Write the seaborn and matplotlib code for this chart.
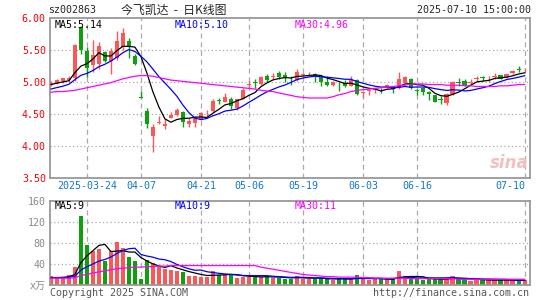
import seaborn as sns
import matplotlib
matplotlib.use('Agg')
import matplotlib.pyplot as plt
import matplotlib.transforms as mtransforms
import pandas as pd
import numpy as np

# daily bars, 2025-03-14 .. 2025-07-10
open_ = [4.95, 4.99, 5.01, 5.03, 5.06, 5.86, 5.49, 5.27, 5.28, 5.47,
         5.33, 5.38, 5.55, 5.64, 5.40, 4.76, 4.55, 4.16, 4.36, 4.32,
         4.44, 4.48, 4.53, 4.34, 4.36, 4.42, 4.51, 4.55, 4.71, 4.69,
         4.74, 4.59, 4.74, 4.95, 5.00, 4.97, 5.09, 5.08, 5.14, 5.11,
         5.05, 5.03, 5.11, 5.12, 5.12, 5.08, 5.00, 4.96, 4.99, 4.98,
         4.94, 5.03, 4.83, 4.86, 4.88, 4.88, 4.92, 4.93, 4.91, 4.99,
         5.05, 4.87, 4.91, 4.85, 4.79, 4.73, 4.67, 4.82, 5.00, 5.02,
         4.98, 5.04, 5.07, 5.04, 5.08, 5.11, 5.08, 5.14, 5.21, 5.18]
high = [5.01, 5.05, 5.07, 5.10, 5.59, 5.88, 5.55, 5.66, 5.63, 5.49,
        5.53, 5.80, 5.85, 5.68, 5.43, 4.86, 4.60, 4.34, 4.47, 4.42,
        4.53, 4.60, 4.55, 4.44, 4.47, 4.53, 4.56, 4.73, 4.75, 4.83,
        4.76, 4.74, 4.90, 5.02, 5.04, 5.10, 5.12, 5.14, 5.17, 5.15,
        5.09, 5.20, 5.14, 5.15, 5.14, 5.09, 5.09, 5.01, 5.00, 5.03,
        5.09, 5.05, 4.86, 4.89, 4.91, 4.91, 4.97, 4.93, 5.15, 5.09,
        5.07, 4.89, 4.92, 4.86, 4.80, 4.78, 4.83, 5.01, 5.07, 5.05,
        5.04, 5.10, 5.10, 5.09, 5.14, 5.11, 5.13, 5.18, 5.25, 5.22]
low = [4.93, 4.97, 4.99, 5.00, 5.02, 5.43, 5.08, 5.15, 5.20, 5.31,
       5.12, 5.35, 5.50, 5.38, 5.26, 4.75, 4.28, 3.90, 4.35, 4.27,
       4.43, 4.47, 4.30, 4.29, 4.30, 4.41, 4.47, 4.53, 4.65, 4.68,
       4.58, 4.56, 4.73, 4.90, 4.91, 4.95, 5.00, 5.05, 5.05, 5.00,
       4.95, 5.02, 5.09, 5.10, 5.00, 4.94, 4.94, 4.93, 4.86, 4.92,
       4.93, 4.79, 4.76, 4.80, 4.83, 4.83, 4.90, 4.83, 4.89, 4.98,
       4.89, 4.80, 4.80, 4.72, 4.68, 4.66, 4.64, 4.80, 4.94, 4.93,
       4.95, 5.02, 5.02, 5.00, 5.05, 5.04, 5.07, 5.13, 5.15, 5.15]
close = [4.99, 5.03, 5.06, 5.07, 5.58, 5.50, 5.22, 5.42, 5.57, 5.33,
         5.49, 5.64, 5.76, 5.56, 5.28, 4.75, 4.35, 4.29, 4.38, 4.35,
         4.49, 4.56, 4.38, 4.39, 4.43, 4.51, 4.52, 4.71, 4.70, 4.77,
         4.62, 4.73, 4.87, 4.97, 4.98, 5.08, 5.03, 5.10, 5.08, 5.06,
         5.04, 5.16, 5.12, 5.13, 5.10, 5.00, 4.96, 5.00, 4.98, 4.94,
         5.03, 4.82, 4.85, 4.87, 4.89, 4.87, 4.95, 4.89, 5.05, 5.08,
         4.91, 4.86, 4.85, 4.81, 4.69, 4.72, 4.82, 5.00, 4.99, 4.95,
         5.00, 5.07, 5.06, 5.05, 5.10, 5.05, 5.12, 5.17, 5.19, 5.19]
# closes of the days before the window (for the first MA5/MA10 points)
pre_close = [4.80, 4.84, 4.78, 4.85, 4.83, 4.92, 4.96, 4.98, 4.95]
# MA30 of price
ma30_price = [4.84, 4.85, 4.85, 4.86, 4.87, 4.89, 4.91, 4.93, 4.95, 4.97,
              4.99, 5.02, 5.05, 5.07, 5.09, 5.10, 5.10, 5.09, 5.07, 5.05,
              5.03, 5.02, 5.01, 5.00, 4.99, 4.98, 4.97, 4.96, 4.95, 4.94,
              4.93, 4.92, 4.91, 4.90, 4.89, 4.87, 4.86, 4.85, 4.83, 4.81,
              4.79, 4.77, 4.76, 4.75, 4.75, 4.75, 4.75, 4.77, 4.80, 4.82,
              4.85, 4.87, 4.88, 4.89, 4.90, 4.91, 4.92, 4.93, 4.94, 4.95,
              4.97, 4.97, 4.97, 4.96, 4.96, 4.96, 4.95, 4.95, 4.95, 4.94,
              4.94, 4.93, 4.93, 4.93, 4.93, 4.94, 4.94, 4.95, 4.96, 4.96]

# volume, 万手
volume = [18, 14, 14, 19, 35, 132, 77, 64, 69, 45,
          64, 81, 70, 54, 45, 12, 48, 42, 34, 31,
          29, 26, 25, 17, 17, 16, 16, 26, 20, 19,
          20, 14, 16, 15, 16, 16, 16, 14, 14, 12,
          12, 18, 12, 12, 11, 13, 12, 10, 12, 11,
          11, 20, 12, 10, 11, 11, 11, 12, 26, 18,
          14, 11, 10, 11, 12, 11, 12, 18, 12, 11,
          8, 10, 10, 9, 9, 9, 10, 9, 8, 9]
pre_volume = [13, 15, 12, 14, 13, 14, 12, 13, 14]
ma30_volume = [13, 13, 13, 13, 14, 18, 20, 23, 25, 27,
               29, 31, 32, 33, 34, 34, 35, 35, 36, 36,
               37, 37, 37, 37, 37, 37, 37, 37, 37, 37,
               37, 37, 37, 37, 37, 34, 32, 30, 28, 26,
               24, 22, 20, 19, 18, 17, 16, 16, 15, 15,
               15, 15, 14, 14, 13, 13, 13, 13, 13, 13,
               12, 12, 12, 12, 12, 12, 12, 12, 11, 11,
               11, 11, 11, 11, 11, 11, 11, 11, 11, 11]

date_pos = [6, 15, 25, 33, 42, 52, 61, 79]
date_labels = ['2025-03-24', '04-07', '04-21', '05-06', '05-19', '06-03', '06-16', '07-10']
price_ticks = [3.50, 4.00, 4.50, 5.00, 5.50, 6.00]
volume_ticks = [0, 40, 80, 120, 160]
volume_tick_labels = ['x万', '40', '80', '120', '160']

RED = '#fa5858'
GREEN = '#0fa00f'
GRID = '#aaaaaa'

sns.set_style('white')
plt.rcParams['font.family'] = ['DejaVu Sans Mono', 'Noto Sans CJK SC']
FS = 7.2

df = pd.DataFrame({'open': open_, 'high': high, 'low': low, 'close': close, 'volume': volume})
df['i'] = np.arange(len(df))
c_all = pd.Series(pre_close + close)
v_all = pd.Series(pre_volume + volume)
n0 = len(pre_close)
df['ma5'] = c_all.rolling(5).mean().iloc[n0:].values
df['ma10'] = c_all.rolling(10).mean().iloc[n0:].values
df['ma30'] = ma30_price
df['vma5'] = v_all.rolling(5).mean().iloc[n0:].values
df['vma10'] = v_all.rolling(10).mean().iloc[n0:].values
df['vma30'] = ma30_volume
up = df.close >= df.open
colors = np.where(up, RED, GREEN)

W, H = 545, 300
fig = plt.figure(figsize=(W / 100, H / 100), dpi=100)


def box(l, t, r, b):
    return [l / W, 1 - b / H, (r - l) / W, (b - t) / H]


ax = fig.add_axes(box(50, 18, 530, 178))
axv = fig.add_axes(box(50, 201, 530, 285))

for a in (ax, axv):
    a.set_xlim(-0.15, 79.85)
    for s in a.spines.values():
        s.set_color('#999999')
        s.set_linewidth(1.3)
    for p in date_pos:
        a.axvline(p, color=GRID, lw=0.9, dashes=(4, 3), zorder=0)

# candles
ax.vlines(df.i, df.low, df.high, colors=colors, lw=1.0, zorder=2)
body = (df.close - df.open).abs().clip(lower=0.012)
ax.bar(df.i, body, bottom=np.minimum(df.open, df.close), width=0.8,
       color=colors, linewidth=0, zorder=3)
sns.lineplot(data=df, x='i', y='ma5', ax=ax, color='black', lw=0.9, legend=False, zorder=4)
sns.lineplot(data=df, x='i', y='ma10', ax=ax, color='#0000ff', lw=0.9, legend=False, zorder=4)
sns.lineplot(data=df, x='i', y='ma30', ax=ax, color='#ff00ff', lw=0.9, legend=False, zorder=4)
ax.set_ylim(3.5, 6.0)
for p in price_ticks[1:-1]:
    ax.axhline(p, color=GRID, lw=0.9, dashes=(1, 2), zorder=0)
ax.set_yticks(price_ticks, [f'{p:.2f}' for p in price_ticks])
ax.tick_params(axis='y', length=0, pad=3, labelcolor='red', labelsize=FS)
ax.set_xticks([])
ax.set_xlabel('')
ax.set_ylabel('')

# date labels between panels
tr = mtransforms.blended_transform_factory(ax.transData, ax.transAxes)
for p, lab in zip(date_pos, date_labels):
    ax.text(p, -0.052, lab, transform=tr, ha='right' if p == date_pos[-1] else 'center',
            va='center', color='#1177cc', fontsize=FS)

# sina watermark
ax.text(79.6, 3.74, 'sina', ha='right', va='center', fontsize=12, fontstyle='italic',
        fontweight='bold', color='#f3c0c0', family='DejaVu Sans', zorder=1)

# volume
axv.bar(df.i, df.volume, width=0.8, color=colors, linewidth=0, zorder=2)
sns.lineplot(data=df, x='i', y='vma5', ax=axv, color='black', lw=0.9, legend=False, zorder=4)
sns.lineplot(data=df, x='i', y='vma10', ax=axv, color='#0000ff', lw=0.9, legend=False, zorder=4)
sns.lineplot(data=df, x='i', y='vma30', ax=axv, color='#ff00ff', lw=0.9, legend=False, zorder=4)
axv.set_ylim(0, 160)
for p in volume_ticks[1:-1]:
    axv.axhline(p, color=GRID, lw=0.9, dashes=(1, 2), zorder=0)
axv.set_yticks(volume_ticks, volume_tick_labels)
axv.tick_params(axis='y', length=0, pad=3, labelcolor='#8a8a8a', labelsize=FS)
axv.set_xticks([])
axv.set_xlabel('')
axv.set_ylabel('')


def ftext(x, y, s, **kw):
    kw.setdefault('fontsize', FS)
    kw.setdefault('va', 'center')
    fig.text(x / W, 1 - y / H, s, **kw)


ftext(48, 10, 'sz002863')
ftext(121, 10, '今飞凯达  -  日K线图', fontsize=8.6, family=['Noto Sans CJK SC', 'DejaVu Sans'])
ftext(531, 10, '2025-07-10 15:00:00', ha='right')

ftext(55, 25, f'MA5:{df.ma5.iloc[-1]:.2f}', color='black')
ftext(175, 25, f'MA10:{df.ma10.iloc[-1]:.2f}', color='#0000ff')
ftext(295, 25, f'MA30:{df.ma30.iloc[-1]:.2f}', color='#ff00ff')

ftext(55, 206, f'MA5:{df.vma5.iloc[-1]:.0f}', color='black')
ftext(175, 206, f'MA10:{df.vma10.iloc[-1]:.0f}', color='#0000ff')
ftext(295, 206, f'MA30:{df.vma30.iloc[-1]:.0f}', color='#ff00ff')

ftext(50, 293, 'Copyright 2025 SINA.COM', color='#555555')
ftext(529, 293, 'http://finance.sina.com.cn', ha='right', color='#555555')

fig.savefig('out.png', dpi=100)
